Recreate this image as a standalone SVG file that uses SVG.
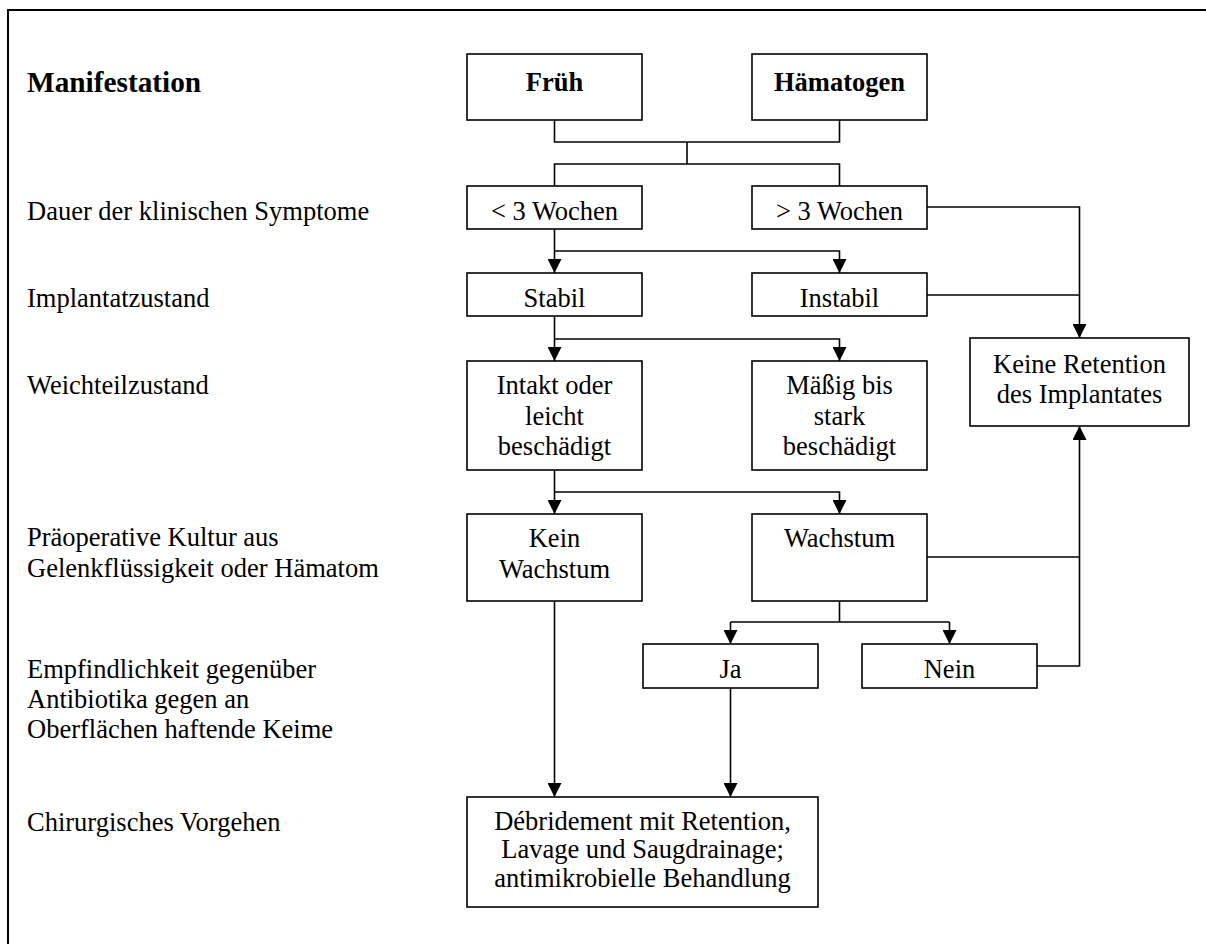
<svg xmlns="http://www.w3.org/2000/svg" width="1206" height="944" viewBox="0 0 1206 944">
<style>
text{font-family:"Liberation Serif","Times New Roman",serif;font-size:26.5px;fill:#000}
.b{font-weight:bold}
.h{font-size:29.3px;font-weight:bold}
.c{text-anchor:middle}
.box{fill:#fff;stroke:#000;stroke-width:1.6}
.ln{fill:none;stroke:#000;stroke-width:1.6}
</style>
<defs>
<marker id="ah" viewBox="0 0 14 14" refX="14" refY="7" markerWidth="14" markerHeight="14" markerUnits="userSpaceOnUse" orient="auto">
<path d="M0,0 L14,7 L0,14 Z" fill="#000"/>
</marker>
</defs>
<rect width="1206" height="944" fill="#fff"/>
<rect x="8" y="10" width="1220" height="960" fill="none" stroke="#000" stroke-width="2"/>

<g id="labels">
<text class="h" x="27" y="92">Manifestation</text>
<text x="27" y="220">Dauer der klinischen Symptome</text>
<text x="27" y="307">Implantatzustand</text>
<text x="27" y="394">Weichteilzustand</text>
<text x="27" y="546">Präoperative Kultur aus</text>
<text x="27" y="577">Gelenkflüssigkeit oder Hämatom</text>
<text x="27" y="678">Empfindlichkeit gegenüber</text>
<text x="27" y="708">Antibiotika gegen an</text>
<text x="27" y="738">Oberflächen haftende Keime</text>
<text x="27" y="831">Chirurgisches Vorgehen</text>
</g>

<g id="connectors">
<path class="ln" d="M554.5,120 V142 H839.5 V120 M687,142 V164 M554.5,186 V164 H839.5 V186"/>
<path class="ln" d="M554.5,229 V273" marker-end="url(#ah)"/>
<path class="ln" d="M554.5,251 H839.5 V273" marker-end="url(#ah)"/>
<path class="ln" d="M927,207 H1079.5 V338" marker-end="url(#ah)"/>
<path class="ln" d="M927,295 H1079.5"/>
<path class="ln" d="M554.5,316 V361" marker-end="url(#ah)"/>
<path class="ln" d="M554.5,339 H839.5 V361" marker-end="url(#ah)"/>
<path class="ln" d="M554.5,470 V514" marker-end="url(#ah)"/>
<path class="ln" d="M554.5,492 H839.5 V514" marker-end="url(#ah)"/>
<path class="ln" d="M927,557 H1079.5"/>
<path class="ln" d="M1037,666 H1079.5 V426" marker-end="url(#ah)"/>
<path class="ln" d="M839.5,601 V622 M730.5,622 H949.5"/>
<path class="ln" d="M730.5,622 V644" marker-end="url(#ah)"/>
<path class="ln" d="M949.5,622 V644" marker-end="url(#ah)"/>
<path class="ln" d="M554.5,601 V797" marker-end="url(#ah)"/>
<path class="ln" d="M730.5,688 V797" marker-end="url(#ah)"/>
</g>

<g id="n-frueh"><rect class="box" x="467" y="54" width="175" height="66"/><text class="b c" x="554.5" y="91">Früh</text></g>
<g id="n-haematogen"><rect class="box" x="752" y="54" width="175" height="66"/><text class="b c" x="839.5" y="91">Hämatogen</text></g>
<g id="n-lt3"><rect class="box" x="467" y="186" width="175" height="43"/><text class="c" x="554.5" y="220">&lt; 3 Wochen</text></g>
<g id="n-gt3"><rect class="box" x="752" y="186" width="175" height="43"/><text class="c" x="839.5" y="220">&gt; 3 Wochen</text></g>
<g id="n-stabil"><rect class="box" x="467" y="273" width="175" height="43"/><text class="c" x="554.5" y="307">Stabil</text></g>
<g id="n-instabil"><rect class="box" x="752" y="273" width="175" height="43"/><text class="c" x="839.5" y="307">Instabil</text></g>
<g id="n-intakt"><rect class="box" x="467" y="361" width="175" height="109"/><text class="c" x="554.5" y="394">Intakt oder</text><text class="c" x="554.5" y="425">leicht</text><text class="c" x="554.5" y="455">beschädigt</text></g>
<g id="n-maessig"><rect class="box" x="752" y="361" width="175" height="109"/><text class="c" x="839.5" y="394">Mäßig bis</text><text class="c" x="839.5" y="425">stark</text><text class="c" x="839.5" y="455">beschädigt</text></g>
<g id="n-keine"><rect class="box" x="970" y="338" width="219" height="88"/><text class="c" x="1079.5" y="373">Keine Retention</text><text class="c" x="1079.5" y="403">des Implantates</text></g>
<g id="n-kein"><rect class="box" x="467" y="514" width="175" height="87"/><text class="c" x="554.5" y="547">Kein</text><text class="c" x="554.5" y="578">Wachstum</text></g>
<g id="n-wachstum"><rect class="box" x="752" y="514" width="175" height="87"/><text class="c" x="839.5" y="547">Wachstum</text></g>
<g id="n-ja"><rect class="box" x="643" y="644" width="175" height="44"/><text class="c" x="730.5" y="678">Ja</text></g>
<g id="n-nein"><rect class="box" x="862" y="644" width="175" height="44"/><text class="c" x="949.5" y="678">Nein</text></g>
<g id="n-debridement"><rect class="box" x="467" y="797" width="351" height="110"/><text class="c" x="642.5" y="830">Débridement mit Retention,</text><text class="c" x="642.5" y="858">Lavage und Saugdrainage;</text><text class="c" x="642.5" y="887">antimikrobielle Behandlung</text></g>
</svg>
